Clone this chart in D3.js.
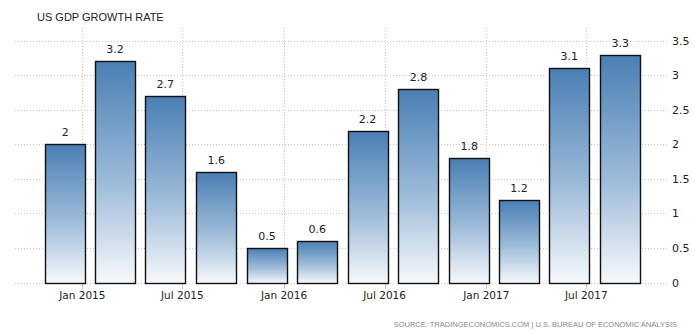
<!DOCTYPE html>
<html>
<head>
<meta charset="utf-8">
<script src="https://cdn.jsdelivr.net/npm/d3@7"></script>
<style>
    body { margin: 0; background: #fff; }
    text { font-family: Tahoma, "DejaVu Sans", sans-serif; }
</style>
</head>
<body>
<div id="chart-area"></div>
<script>
// data: US GDP growth rate by quarter
var quarters = ["2015-01-01", "2015-04-01", "2015-07-01", "2015-10-01",
    "2016-01-01", "2016-04-01", "2016-07-01", "2016-10-01",
    "2017-01-01", "2017-04-01", "2017-07-01", "2017-10-01"];
var growth = [2, 3.2, 2.7, 1.6, 0.5, 0.6, 2.2, 2.8, 1.8, 1.2, 3.1, 3.3];
var yTicks = [0, 0.5, 1, 1.5, 2, 2.5, 3, 3.5];
var xTicks = ["2015-01-01", "2015-07-01", "2016-01-01", "2016-07-01", "2017-01-01", "2017-07-01"];

var width = 695, height = 335;
var parse = d3.timeParse("%Y-%m-%d");

var data = quarters.map(function (q, i) {
    return { date: parse(q), value: growth[i] };
});

var svg = d3.select("#chart-area")
    .append("svg")
    .attr("width", width)
    .attr("height", height);

var x = d3.scaleTime()
    .domain([parse("2015-01-01"), parse("2017-07-01")])
    .range([82.3, 586.3]);

var y = d3.scaleLinear()
    .domain([0, 3.5])
    .range([282.5, 40.7]);

var barWidth = 40;
var barShift = -17; // bars sit a little left of their quarter start

// gradient per bar
var grad = svg.append("defs").append("linearGradient")
    .attr("id", "barGrad")
    .attr("x1", 0).attr("y1", 0)
    .attr("x2", 0).attr("y2", 1);
grad.append("stop").attr("offset", "0%").attr("stop-color", "#4a7fb5");
grad.append("stop").attr("offset", "55%").attr("stop-color", "#9ebcd9");
grad.append("stop").attr("offset", "100%").attr("stop-color", "#f7f9fc");

// title
svg.append("text")
    .attr("x", 37)
    .attr("y", 21)
    .attr("font-size", "11px")
    .style("font-family", "'Liberation Sans', Arial, sans-serif")
    .attr("fill", "#222")
    .text("US GDP GROWTH RATE");

// horizontal gridlines
svg.append("g").selectAll("line")
    .data(yTicks)
    .enter().append("line")
    .attr("x1", 15)
    .attr("x2", 668)
    .attr("y1", function (d) { return Math.round(y(d)) + 0.5; })
    .attr("y2", function (d) { return Math.round(y(d)) + 0.5; })
    .attr("stroke", "#c8c8c8")
    .attr("stroke-dasharray", "1,2");

// vertical gridlines
svg.append("g").selectAll("line")
    .data(xTicks)
    .enter().append("line")
    .attr("x1", function (d) { return Math.round(x(parse(d))) + 0.5; })
    .attr("x2", function (d) { return Math.round(x(parse(d))) + 0.5; })
    .attr("y1", 28)
    .attr("y2", 283)
    .attr("stroke", "#c8c8c8")
    .attr("stroke-dasharray", "1,2");

// x tick marks
svg.append("g").selectAll("line")
    .data(xTicks)
    .enter().append("line")
    .attr("x1", function (d) { return Math.round(x(parse(d))) + 0.5; })
    .attr("x2", function (d) { return Math.round(x(parse(d))) + 0.5; })
    .attr("y1", 283)
    .attr("y2", 289)
    .attr("stroke", "#c0c0c0");

// x labels
svg.append("g").selectAll("text")
    .data(xTicks)
    .enter().append("text")
    .attr("x", function (d) { return x(parse(d)); })
    .attr("y", 299)
    .attr("text-anchor", "middle")
    .attr("font-size", "10.5px")
    .attr("fill", "#222")
    .text(function (d) { return d3.timeFormat("%b %Y")(parse(d)); });

// y labels (right side)
svg.append("g").selectAll("text")
    .data(yTicks)
    .enter().append("text")
    .attr("x", 672)
    .attr("y", function (d) { return y(d) + 4; })
    .attr("font-size", "11px")
    .attr("fill", "#222")
    .text(function (d) { return d; });

// bars
svg.append("g").selectAll("rect")
    .data(data)
    .enter().append("rect")
    .attr("x", function (d) { return Math.round(x(d.date) + barShift - barWidth / 2) + 0.5; })
    .attr("y", function (d) { return Math.round(y(d.value)) + 0.5; })
    .attr("width", barWidth)
    .attr("height", function (d) { return Math.round(y(0)) - Math.round(y(d.value)); })
    .attr("fill", "url(#barGrad)")
    .attr("stroke", "#111")
    .attr("stroke-width", 1.4);

// value labels
svg.append("g").selectAll("text")
    .data(data)
    .enter().append("text")
    .attr("x", function (d) { return x(d.date) + barShift; })
    .attr("y", function (d) { return y(d.value) - 8; })
    .attr("text-anchor", "middle")
    .attr("font-size", "11px")
    .attr("fill", "#222")
    .text(function (d) { return d.value; });

// source
svg.append("text")
    .attr("x", 677)
    .attr("y", 327)
    .attr("text-anchor", "end")
    .attr("font-size", "7.5px")
    .style("font-family", "'Liberation Sans', Arial, sans-serif")
    .attr("fill", "#888")
    .text("SOURCE: TRADINGECONOMICS.COM | U.S. BUREAU OF ECONOMIC ANALYSIS");
</script>
</body>
</html>
